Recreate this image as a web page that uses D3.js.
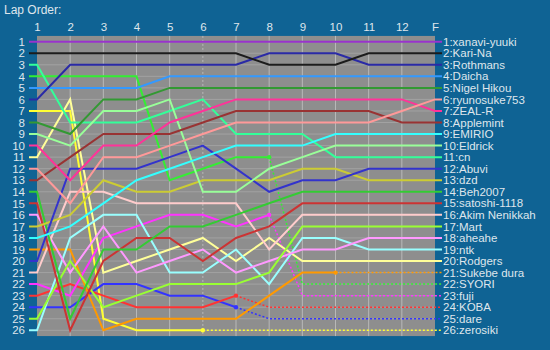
<!DOCTYPE html>
<html><head><meta charset="utf-8">
<script src="https://cdn.jsdelivr.net/npm/d3@7"></script>
<style>
html,body{margin:0;padding:0;background:#0f6394;}
svg{display:block;}
text{font-family:"Liberation Sans",Arial,sans-serif;}
</style></head><body>
<svg id="c" width="550" height="350"></svg>
<script>
const laps = ["1","2","3","4","5","6","7","8","9","10","11","12","F"];
const rows = d3.range(1, 27);
const drivers = ["xanavi-yuuki","Kari-Na","Rothmans","Daicha","Nigel Hikou","ryunosuke753","ZEAL-R","Applemint","EMIRIO","Eldrick","cn","Abuvi","dzd","Beh2007","satoshi-1118","Akim Nenikkah","Mart","aheahe","ntk","Rodgers","Sukebe dura","SYORI","fuji","KOBA","dare","zerosiki"];
const colors = ["#9933cc","#1c1c1c","#2a2aa6","#3399ff","#339933","#ff9999","#ff3399","#993333","#33ffff","#99ff99","#33ff99","#3333cc","#cccc33","#33cc33","#cc3333","#ffcccc","#99ff33","#ff99ff","#99ffff","#ffff99","#ff9900","#33ee33","#ff33ff","#ff3333","#3333ff","#ffff33"];
// position after each lap: 1..12, F
const positions = [
  [1,1,1,1,1,1,1,1,1,1,1,1,1],
  [2,2,2,2,2,2,2,3,3,3,2,2,2],
  [6,3,3,3,3,3,3,2,2,2,3,3,3],
  [5,5,5,5,4,4,4,4,4,4,4,4,4],
  [8,9,6,6,5,5,5,5,5,5,5,5,5],
  [12,15,11,11,10,9,8,8,8,8,8,7,6],
  [10,13,10,10,8,7,6,6,6,6,6,6,7],
  [13,11,9,9,9,8,7,7,7,7,7,8,8],
  [18,17,15,13,12,11,10,10,10,9,9,9,9],
  [9,10,7,7,6,14,14,12,11,10,10,10,10],
  [3,8,8,8,7,6,9,9,9,11,11,11,11],
  [20,12,12,12,11,10,12,14,13,13,12,12,12],
  [17,16,13,14,14,13,13,13,12,12,13,13,13],
  [14,25,19,19,17,17,16,15,14,14,14,14,14],
  [15,26,20,18,18,20,18,17,15,15,15,15,15],
  [21,14,14,15,15,15,15,19,16,16,16,16,16],
  [25,20,24,23,22,22,22,21,17,17,17,17,17],
  [16,21,17,21,20,19,21,20,19,19,18,18,18],
  [26,18,16,16,21,21,19,22,18,18,19,19,19],
  [11,6,21,20,19,18,20,18,20,20,20,20,20],
  [19,19,26,25,25,25,25,23,21,21,21,21,21],
  [4,4,4,4,13,12,11,11,22,22,22,22,22],
  [22,23,18,17,16,16,17,16,23,23,23,23,23],
  [23,22,23,24,24,24,23,24,24,24,24,24,24],
  [24,24,22,22,23,23,24,25,25,25,25,25,25],
  [7,7,25,26,26,26,26,26,26,26,26,26,26]
];
// index of the last lap run before retiring (-1 = finished)
const retiredAt = [-1,-1,-1,-1,-1,-1,-1,-1,-1,-1,-1,-1,-1,-1,-1,-1,-1,-1,-1,-1,9,7,7,6,6,5];

const svg = d3.select("#c");
const x = d3.scalePoint().domain(laps).range([37, 435]);
const y = d3.scalePoint().domain(rows).range([41.7, 330.3]);
const step = y.step();
const plotTop = y(1) - step/2, plotBottom = y(26) + step/2;

svg.append("rect").attr("width",550).attr("height",350).attr("fill","#0f6394");
svg.append("text").attr("x",4).attr("y",14).attr("fill","#dfe6ec").style("font-size","12px").text("Lap Order:");

// plot area
svg.append("rect").attr("x",x("1")).attr("y",plotTop).attr("width",x("F")-x("1")).attr("height",plotBottom-plotTop).attr("fill","#8e8e8e");
const grid = svg.append("g");
grid.selectAll("line.h").data(rows).join("line").attr("class","h")
  .attr("x1",x("1")).attr("x2",x("F")).attr("y1",d=>y(d)).attr("y2",d=>y(d))
  .attr("stroke","#a2a2a2").attr("stroke-width",1);
grid.selectAll("line.v").data(laps.slice(1,-1)).join("line").attr("class","v")
  .attr("x1",d=>x(d)).attr("x2",d=>x(d)).attr("y1",plotTop).attr("y2",plotBottom)
  .attr("stroke","#b8b8b8").attr("stroke-width",1)
  .attr("stroke-dasharray",d=>d==="6"?"2,2":null);

// axes
const xAxis = svg.append("g").attr("transform",`translate(0,${plotTop-3})`)
  .call(d3.axisTop(x).tickSize(0).tickPadding(2));
const yAxis = svg.append("g").attr("transform",`translate(${x("1")-12},0)`)
  .call(d3.axisLeft(y).tickSize(0).tickPadding(0));
[xAxis,yAxis].forEach(a=>{
  a.select(".domain").remove();
  a.selectAll("text").attr("fill","#dfe6ec").style("font-size","11.5px").style("font-family","'Liberation Sans',Arial,sans-serif");
});

const xs = x("1") - 8, xe = x("F") + 7;
const line = d3.line().x(d=>d[0]).y(d=>y(d[1]));
const lines = svg.append("g");
for (let i = drivers.length-1; i >= 0; i--) {
  const p = positions[i];
  const pts = [[xs,p[0]]].concat(laps.map((l,k)=>[x(l),p[k]])).concat([[xe,p[p.length-1]]]);
  const r = retiredAt[i];
  if (r < 0) {
    lines.append("path").attr("d",line(pts)).attr("fill","none").attr("stroke",colors[i]).attr("stroke-width",2);
  } else {
    const solid = pts.slice(0, r+2), dotted = pts.slice(r+1);
    lines.append("path").attr("d",line(solid)).attr("fill","none").attr("stroke",colors[i]).attr("stroke-width",2);
    lines.append("path").attr("d",line(dotted)).attr("fill","none").attr("stroke",colors[i]).attr("stroke-width",1.5).attr("stroke-dasharray","2,2");
    lines.append("circle").attr("cx",x(laps[r])).attr("cy",y(p[r])).attr("r",2.2).attr("fill",colors[i]);
  }
}
// end labels
svg.append("g").selectAll("text").data(drivers).join("text")
  .attr("x",xe+1).attr("y",(d,i)=>y(positions[i][laps.length-1])).attr("dy","0.36em")
  .attr("fill","#dfe6ec").style("font-size","11.5px")
  .text((d,i)=>`${positions[i][laps.length-1]}:${d}`);
</script>
</body></html>
